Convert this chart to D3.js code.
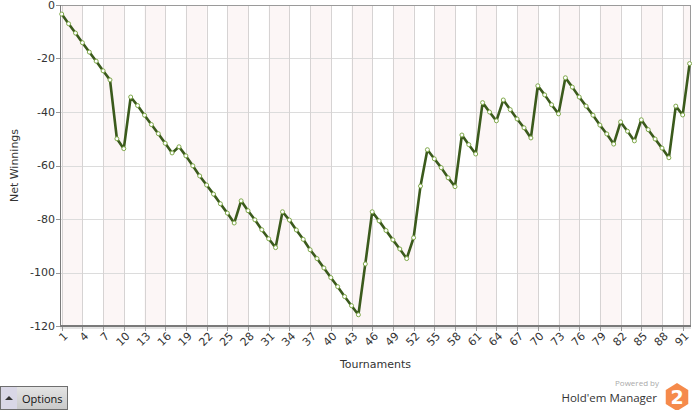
<!DOCTYPE html>
<meta charset="utf-8">
<head>
<style>
  body { margin: 0; background: #fff; font-family: "DejaVu Sans", Verdana, sans-serif; }
  #chart { position: relative; width: 692px; height: 410px; overflow: hidden; }
</style>
</head>
<script src="https://d3js.org/d3.v7.min.js"></script>
<div id="chart"></div>
<script>

// tournaments 1..92 and net winnings
var tournaments = d3.range(1, 93);
var netWinnings = [
  -3.4, -7.0, -10.5, -14.1, -17.6, -21.0, -24.6, -28.0, -50.0, -53.7,
  -34.4, -37.6, -41.2, -44.7, -48.1, -51.7, -55.3, -53.0, -56.4, -60.1,
  -63.9, -67.3, -70.7, -74.3, -77.8, -81.5, -73.2, -76.9, -80.3, -84.0,
  -87.4, -90.7, -77.3, -80.4, -84.1, -87.6, -91.5, -94.8, -98.3, -101.9,
  -105.3, -109.0, -112.4, -115.8, -96.8, -77.3, -80.7, -84.3, -87.8, -91.2,
  -94.8, -87.0, -67.7, -54.1, -57.5, -60.8, -64.6, -67.9, -48.6, -52.2,
  -55.7, -36.5, -40.0, -43.3, -35.5, -39.1, -42.6, -45.9, -49.7, -30.2,
  -33.6, -37.3, -40.7, -27.2, -30.7, -34.4, -37.8, -41.2, -44.9, -48.2,
  -52.0, -43.7, -47.2, -50.8, -42.9, -46.6, -50.1, -53.5, -57.1, -37.8,
  -41.1, -21.9
];
var xTicks = d3.range(1, 92, 3);          // 1, 4, 7 ... 91
var yTicks = [0, -20, -40, -60, -80, -100, -120];

var data = tournaments.map(function(t, i) { return {t: t, v: netWinnings[i]}; });

var margin = {top: 5, left: 60},
    width = 631,
    height = 321;

var svg = d3.select("#chart")
  .append("svg")
    .attr("width", 692)
    .attr("height", 410)
    .style("position", "absolute")
    .style("left", 0).style("top", 0);

var g = svg.append("g")
    .attr("transform", "translate(" + margin.left + "," + margin.top + ")");

var x = d3.scaleLinear()
    .domain([1, 92])
    .range([1.7, 629.6]);

var y = d3.scaleLinear()
    .domain([-120, 0])
    .range([height, 0]);

g.append("clipPath").attr("id", "clip")
  .append("rect").attr("width", width).attr("height", height);

var bg = g.append("g").attr("clip-path", "url(#clip)");

// alternating pink bands between ticks
bg.selectAll("rect.band")
  .data(xTicks.filter(function(d, i) { return i % 2 == 0; }))
  .enter()
  .append("rect")
    .attr("class", "band")
    .attr("x", function(d) { return x(d); })
    .attr("y", 0)
    .attr("width", function(d) { return x(d + 3) - x(d); })
    .attr("height", height)
    .attr("fill", "#fcf6f6");

// horizontal grid
bg.selectAll("line.hg")
  .data(yTicks)
  .enter()
  .append("line")
    .attr("x1", 0).attr("x2", width)
    .attr("y1", function(d) { return Math.round(y(d)) + 0.5; })
    .attr("y2", function(d) { return Math.round(y(d)) + 0.5; })
    .attr("stroke", "#dcdcdc");

// vertical grid
bg.selectAll("line.vg")
  .data(xTicks)
  .enter()
  .append("line")
    .attr("x1", function(d) { return Math.round(x(d)) + 0.5; })
    .attr("x2", function(d) { return Math.round(x(d)) + 0.5; })
    .attr("y1", 0).attr("y2", height)
    .attr("stroke", "#d6d3d3");

// frame
g.append("rect")
    .attr("x", 0.5).attr("y", 0.5)
    .attr("width", width - 1).attr("height", height - 1)
    .attr("fill", "none")
    .attr("stroke", "#9a9a9a");
g.append("line")
    .attr("x1", 0).attr("x2", width)
    .attr("y1", height).attr("y2", height)
    .attr("stroke", "#7a7a7a").attr("stroke-width", 2);
g.append("line")
    .attr("x1", 0).attr("x2", width)
    .attr("y1", height + 2).attr("y2", height + 2)
    .attr("stroke", "#c8c8c8").attr("stroke-width", 1);
g.append("line")
    .attr("x1", 0.5).attr("x2", 0.5)
    .attr("y1", 0).attr("y2", height)
    .attr("stroke", "#7a7a7a");

// y axis ticks + labels
var yAxis = g.append("g").attr("class", "yaxis");
yAxis.selectAll("line")
  .data(yTicks)
  .enter()
  .append("line")
    .attr("x1", -4).attr("x2", 0)
    .attr("y1", function(d) { return Math.round(y(d)) + 0.5; })
    .attr("y2", function(d) { return Math.round(y(d)) + 0.5; })
    .attr("stroke", "#999");
yAxis.selectAll("text")
  .data(yTicks)
  .enter()
  .append("text")
    .attr("x", -5)
    .attr("y", function(d) { return y(d); })
    .attr("dy", "0.35em")
    .attr("text-anchor", "end")
    .style("font-size", "11px")
    .style("fill", "#333")
    .text(function(d) { return d; });

// x axis ticks + rotated labels
var xAxis = g.append("g").attr("transform", "translate(0," + height + ")");
xAxis.selectAll("line")
  .data(xTicks)
  .enter()
  .append("line")
    .attr("x1", function(d) { return Math.round(x(d)) + 0.5; })
    .attr("x2", function(d) { return Math.round(x(d)) + 0.5; })
    .attr("y1", 1).attr("y2", 5)
    .attr("stroke", "#999");
xAxis.selectAll("text")
  .data(xTicks)
  .enter()
  .append("text")
    .attr("transform", function(d) { return "translate(" + (x(d) + 4) + ",8) rotate(-45)"; })
    .attr("text-anchor", "end")
    .attr("dy", "0.35em")
    .style("font-size", "11px")
    .style("fill", "#333")
    .text(function(d) { return d; });

// axis titles
svg.append("text")
    .attr("x", margin.left + width / 2)
    .attr("y", 368)
    .attr("text-anchor", "middle")
    .style("font-size", "11px")
    .style("fill", "#333")
    .text("Tournaments");
svg.append("text")
    .attr("transform", "translate(18," + (margin.top + height / 2) + ") rotate(-90)")
    .attr("text-anchor", "middle")
    .style("font-size", "11px")
    .style("fill", "#333")
    .text("Net Winnings");

// the line
var line = d3.line()
    .x(function(d) { return x(d.t); })
    .y(function(d) { return y(d.v); });

g.append("path")
    .datum(data)
    .attr("fill", "none")
    .attr("stroke", "#3b5a1c")
    .attr("stroke-width", 2.6)
    .attr("stroke-linejoin", "round")
    .attr("d", line);

g.selectAll("circle")
  .data(data)
  .enter()
  .append("circle")
    .attr("cx", function(d) { return x(d.t); })
    .attr("cy", function(d) { return y(d.v); })
    .attr("r", 2)
    .attr("fill", "#fff")
    .attr("stroke", "#7fa84a")
    .attr("stroke-width", 1);

// Options button
var btn = svg.append("g").attr("transform", "translate(0,386)");
var grad = svg.append("defs").append("linearGradient")
    .attr("id", "btnGrad").attr("x1", 0).attr("y1", 0).attr("x2", 0).attr("y2", 1);
grad.append("stop").attr("offset", "0%").attr("stop-color", "#e4e4e4");
grad.append("stop").attr("offset", "100%").attr("stop-color", "#c9c9c9");
btn.append("rect")
    .attr("x", 0.5).attr("y", 0.5).attr("width", 67).attr("height", 23)
    .attr("fill", "url(#btnGrad)").attr("stroke", "#6e6e6e");
btn.append("rect")
    .attr("x", 1).attr("y", 1).attr("width", 16).attr("height", 22)
    .attr("fill", "#d9d7e6");
btn.append("path")
    .attr("d", "M5,14 L9,10 L13,14 Z")
    .attr("fill", "#333");
btn.append("text")
    .attr("x", 22).attr("y", 16.5)
    .style("font-family", "'Open Sans', sans-serif")
    .style("font-size", "11px")
    .style("fill", "#111")
    .text("Options");

// Powered by logo
svg.append("text")
    .attr("x", 659).attr("y", 386)
    .attr("text-anchor", "end")
    .style("font-family", "'Open Sans', sans-serif")
    .style("font-size", "8px")
    .style("fill", "#aaa")
    .text("Powered by");
svg.append("text")
    .attr("x", 657).attr("y", 402)
    .attr("text-anchor", "end")
    .style("font-family", "'Open Sans', sans-serif")
    .style("font-size", "11.5px")
    .style("fill", "#333")
    .text("Hold'em Manager");
var hex = svg.append("g").attr("transform", "translate(677,397)");
hex.append("path")
    .attr("d", d3.range(6).map(function(i) {
        var a = Math.PI / 3 * i - Math.PI / 2;
        return (i ? "L" : "M") + (13 * Math.cos(a)).toFixed(2) + "," + (14 * Math.sin(a)).toFixed(2);
      }).join("") + "Z")
    .attr("fill", "#f58a4b");
hex.append("text")
    .attr("x", 0).attr("y", 7)
    .attr("text-anchor", "middle")
    .style("font-size", "19px")
    .style("font-weight", "bold")
    .style("fill", "#fff")
    .text("2");

</script>
